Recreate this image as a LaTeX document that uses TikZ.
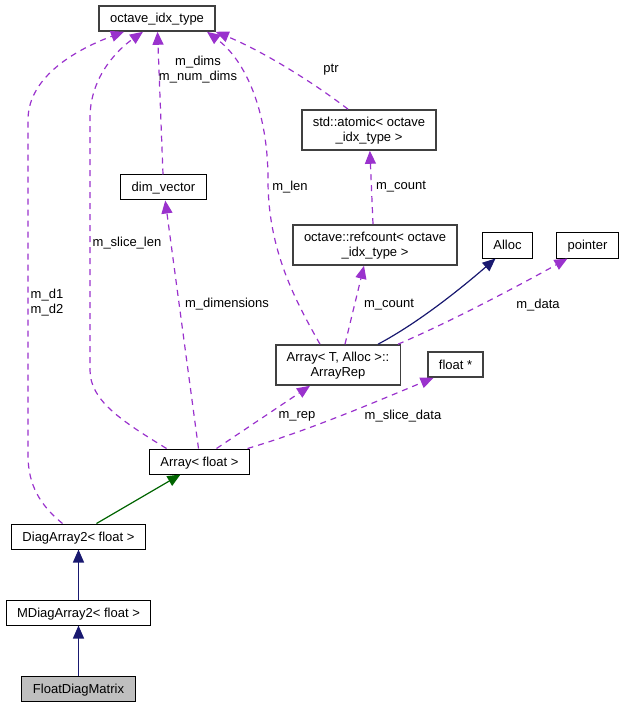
\documentclass[tikz,border=0pt]{standalone}
\usepackage{fontspec}
\setmainfont{Liberation Sans}
\usepackage{tikz}
\usetikzlibrary{arrows.meta,backgrounds}

\definecolor{usecol}{HTML}{9A32CD}
\definecolor{pubcol}{HTML}{191970}
\definecolor{inhcol}{HTML}{006400}

\begin{document}
\begin{tikzpicture}[x=1pt,y=-1pt,>={Triangle[length=13pt,width=11pt]},
  font=\fontsize{13}{15}\selectfont,
  cls/.style={rectangle, draw=black, line width=1pt, fill=white, text centered,
              inner xsep=11pt, inner ysep=0pt, minimum height=25pt,
              text height=12pt, text depth=3pt},
  ext/.style={cls, draw=black!75, line width=1.6pt},
  two/.style={minimum height=40pt, align=center, text height=27pt, text depth=4pt},
  use/.style={->, usecol, line width=1.2pt, dash pattern=on 6pt off 5pt},
  pub/.style={->, pubcol, line width=1.2pt},
  inh/.style={->, inhcol, line width=1.2pt},
  lbl/.style={text=black, inner sep=0pt, align=center}]

\useasboundingbox (0,0) rectangle (624,708);

% classes
\node [ext] (idx) at (157,18.5) {octave\_idx\_type};
\node [ext, two] (atomic) at (369,130) {std::atomic< octave\\\_idx\_type >};
\node [cls] (dimv) at (163.5,187.5) {dim\_vector};
\node [ext, two] (refc) at (375,245) {octave::refcount< octave\\\_idx\_type >};
\node [cls] (alloc) at (507.5,245.5) {Alloc};
\node [cls] (ptr) at (587.5,245.5) {pointer};
\node [ext, two] (rep) at (338,365) {Array< T, Alloc >::\\ArrayRep};
\node [ext] (fptr) at (455.5,364.5) {float *};
\node [cls] (arr) at (199.5,461.5) {Array< float >};
\node [cls] (diag) at (78.5,536.5) {DiagArray2< float >};
\node [cls] (mdiag) at (78.5,612.5) {MDiagArray2< float >};
\node [cls, fill=black!25] (fdm) at (78.5,688.5) {FloatDiagMatrix};

% inheritance
\draw [inh] ([xshift=18pt]diag.north) to ([xshift=-19pt]arr.south);
\draw [pub] (mdiag) to (diag);
\draw [pub] (fdm) to (mdiag);

% usage
\draw [use] ([xshift=-16pt]diag.north) .. controls (40,505) and (28,485) .. (28,455)
   -- (28,120) .. controls (28,75) and (80,48) .. ([xshift=-33pt]idx.south);
\node [lbl] (lbld) at (47,303) {m\_d1\\m\_d2};
\draw [use] ([xshift=-33pt]arr.north) .. controls (120,420) and (90,400) .. (90,370)
   -- (90,118) .. controls (90,75) and (120,48) .. ([xshift=-14pt]idx.south);
\node [lbl] (lbls) at (127,243) {m\_slice\_len};
\draw [use] (dimv) to (idx);
\node [lbl] (lbldims) at (198,70) {m\_dims\\m\_num\_dims};
\draw [use] ([xshift=-1pt]arr.north) to (dimv);
\node [lbl] (lbldim) at (227,304) {m\_dimensions};
\draw [use] ([xshift=-18pt]rep.north) .. controls (295,300) and (268,250) .. (268,180)
   .. controls (268,110) and (245,60) .. ([xshift=50pt]idx.south);
\node [lbl] (lbllen) at (290,187) {m\_len};
\draw [use] ([xshift=-21pt]atomic.north) .. controls (310,80) and (260,50) .. (idx.south east);
\node [lbl] (lblptr) at (331,70) {ptr};
\draw [use] ([xshift=-2pt]refc.north) to (atomic);
\node [lbl] (lblcnt) at (401,187) {m\_count};
\draw [use] ([xshift=7pt]rep.north) to ([xshift=-11pt]refc.south);
\node [lbl] (lblcnt2) at (389,305) {m\_count};
\draw [pub] ([xshift=40pt]rep.north) .. controls (420,322) and (465,285) .. ([xshift=-12pt]alloc.south);
\draw [use] ([xshift=60pt]rep.north) .. controls (450,322) and (520,285) .. ([xshift=-20pt]ptr.south);
\node [lbl] (lbldata) at (538,305) {m\_data};
\draw [use] ([xshift=17pt]arr.north) to ([xshift=-28pt]rep.south);
\node [lbl] (lblrep) at (297,416) {m\_rep};
\draw [use] ([xshift=48pt]arr.north) .. controls (310,430) and (380,400) .. ([xshift=-22pt]fptr.south);
\node [lbl] (lblsd) at (403,416) {m\_slice\_data};

\end{tikzpicture}
\end{document}
